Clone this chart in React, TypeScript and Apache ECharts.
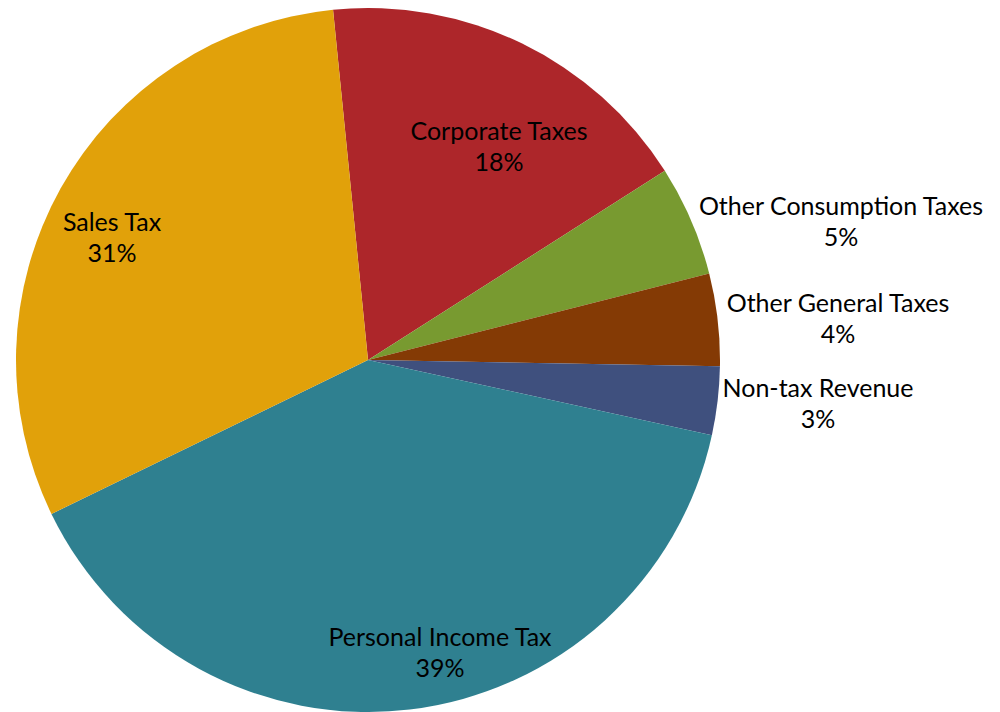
import React, { useEffect, useRef } from "react";
import * as echarts from "echarts";

const categories = [
  "Corporate Taxes",
  "Other Consumption Taxes",
  "Other General Taxes",
  "Non-tax Revenue",
  "Personal Income Tax",
  "Sales Tax",
];
const shares = [17.55, 5.08, 4.24, 3.14, 39.37, 30.62];
const colors = ["#AD262A", "#789A30", "#843A05", "#3F507E", "#2F8090", "#E1A10A"];
// label block centres (layout only)
const labelPos: [number, number][] = [
  [499, 145],
  [841, 220],
  [838, 317],
  [818, 402],
  [440, 651],
  [112, 236],
];

export default function App() {
  const ref = useRef<HTMLDivElement>(null);
  useEffect(() => {
    if (!ref.current) return;
    const chart = echarts.init(ref.current, null, { renderer: "svg" });
    chart.setOption({
      animation: false,
      backgroundColor: "#ffffff",
      series: [
        {
          type: "pie",
          center: [368, 360],
          radius: 352,
          startAngle: 95.7,
          clockwise: true,
          avoidLabelOverlap: false,
          data: categories.map((name, i) => ({
            name,
            value: shares[i],
            itemStyle: { color: colors[i] },
          })),
          label: {
            show: true,
            position: "inside",
            formatter: (p: any) => `${p.name}\n${Math.round(p.percent)}%`,
            color: "#000000",
            fontFamily: "Lato",
            fontSize: 25,
            lineHeight: 31,
            align: "center",
          },
          labelLine: { show: false },
          labelLayout: (params: any) => {
            const pos = labelPos[params.dataIndex];
            return {
              x: pos[0],
              y: pos[1],
              align: "center",
              verticalAlign: "middle",
            };
          },
          emphasis: { disabled: true },
        },
      ],
    });
    return () => chart.dispose();
  }, []);
  return (
    <div
      ref={ref}
      style={{ position: "absolute", left: 0, top: 0, width: 1000, height: 712 }}
    />
  );
}
